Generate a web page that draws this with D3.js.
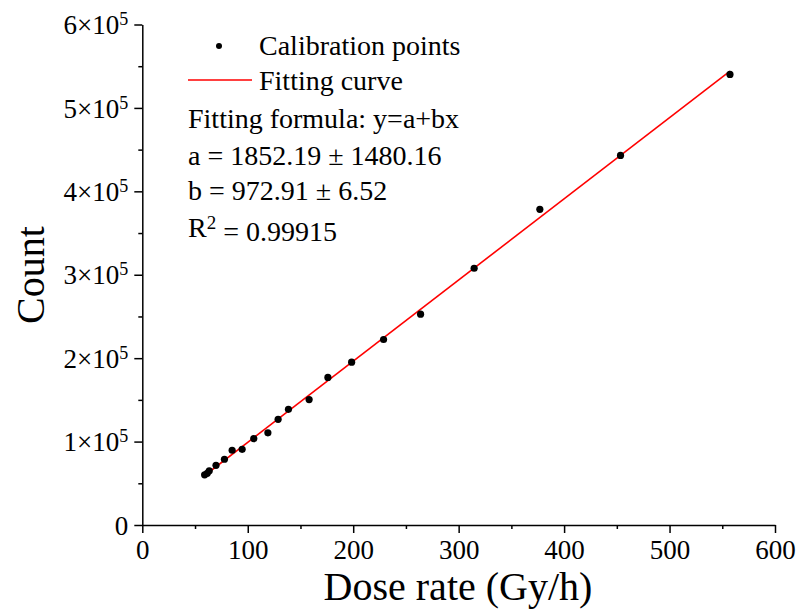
<!DOCTYPE html>
<html>
<head>
<meta charset="utf-8">
<script src="https://cdn.jsdelivr.net/npm/d3@7"></script>
<style>
  html, body { margin: 0; padding: 0; background: #fff; }
  svg { display: block; font-family: "Liberation Serif", "Times New Roman", serif; }
</style>
</head>
<body>
<svg id="chart" width="798" height="610"></svg>
<script>
// ---- data ----
const doseRate = [59.1, 61.6, 63.5, 69.9, 77.9, 85.2, 94.7, 105.7, 119.1, 128.8, 138.6, 158.2, 176.0, 198.5, 228.8, 263.9, 314.7, 377.0, 453.5, 557.3];
const counts   = [60200, 61900, 64900, 71500, 78800, 89600, 90700, 103600, 110500, 126700, 138700, 150300, 176900, 195200, 222400, 252700, 307800, 378400, 443100, 540100];
const fitA = 1852.19;
const fitB = 972.91;
const xTicks = [0, 100, 200, 300, 400, 500, 600];
const xMinorTicks = [50, 150, 250, 350, 450, 550];
const yTicks = [0, 100000, 200000, 300000, 400000, 500000, 600000];
const yMinorTicks = [50000, 150000, 250000, 350000, 450000, 550000];
const yTickMantissa = ["0", "1", "2", "3", "4", "5", "6"];
const legendLabels = ["Calibration points", "Fitting curve"];
const formulaLines = ["Fitting formula: y=a+bx", "a = 1852.19 \u00B1 1480.16", "b = 972.91 \u00B1 6.52"];
const r2Text = "= 0.99915";

// ---- layout ----
const svg = d3.select("#chart");
const x = d3.scaleLinear().domain([0, 600]).range([142.3, 775]);
const y = d3.scaleLinear().domain([0, 600000]).range([525, 24.5]);

// axes
const gx = svg.append("g").attr("transform", `translate(0,${y(0)})`)
  .call(d3.axisBottom(x).tickValues(xTicks).tickSize(8).tickSizeOuter(0).tickFormat(""));
const gxm = svg.append("g").attr("transform", `translate(0,${y(0)})`)
  .call(d3.axisBottom(x).tickValues(xMinorTicks).tickSize(4).tickSizeOuter(0).tickFormat(""));
gxm.select(".domain").remove();
const gy = svg.append("g").attr("transform", `translate(${x(0)},0)`)
  .call(d3.axisLeft(y).tickValues(yTicks).tickSize(8).tickSizeOuter(0).tickFormat(""));
const gym = svg.append("g").attr("transform", `translate(${x(0)},0)`)
  .call(d3.axisLeft(y).tickValues(yMinorTicks).tickSize(4).tickSizeOuter(0).tickFormat(""));
gym.select(".domain").remove();
svg.selectAll(".domain, .tick line").attr("stroke", "#000").attr("stroke-width", 1.5);

// x tick labels
gx.selectAll(".tick").append("text")
  .attr("y", 34).attr("text-anchor", "middle").attr("fill", "#000")
  .style("font-size", "27px").style("font-family", "Liberation Serif")
  .text(d => d);

// y tick labels with superscripts
gy.selectAll(".tick").each(function(d, i) {
  const t = d3.select(this).append("text")
    .attr("x", -14).attr("dy", "0.34em").attr("text-anchor", "end").attr("fill", "#000")
    .style("font-size", "27px").style("font-family", "Liberation Serif");
  if (d === 0) { t.text("0"); return; }
  t.append("tspan").text(yTickMantissa[i] + "\u00D710");
  t.append("tspan").attr("dy", "-0.5em").style("font-size", "18px").text("5");
});

// axis titles
svg.append("text").attr("x", 458).attr("y", 600).attr("text-anchor", "middle")
  .style("font-size", "40px").text("Dose rate (Gy/h)");
svg.append("text").attr("transform", `translate(44,275) rotate(-90)`).attr("text-anchor", "middle")
  .style("font-size", "40px").text("Count");

// fit line
const xMin = d3.min(doseRate), xMax = d3.max(doseRate);
svg.append("line")
  .attr("x1", x(xMin)).attr("y1", y(fitA + fitB * xMin))
  .attr("x2", x(xMax)).attr("y2", y(fitA + fitB * xMax))
  .attr("stroke", "#ff0000").attr("stroke-width", 1.6);

// points
svg.append("g").selectAll("circle").data(doseRate).join("circle")
  .attr("cx", d => x(d)).attr("cy", (d, i) => y(counts[i]))
  .attr("r", 3.6).attr("fill", "#000");

// legend
const lg = svg.append("g").style("font-size", "28px");
lg.append("circle").attr("cx", 219).attr("cy", 46).attr("r", 3).attr("fill", "#000");
lg.append("text").attr("x", 259).attr("y", 55).text(legendLabels[0]);
lg.append("line").attr("x1", 188).attr("x2", 252).attr("y1", 80).attr("y2", 80)
  .attr("stroke", "#ff0000").attr("stroke-width", 1.6);
lg.append("text").attr("x", 259).attr("y", 90).text(legendLabels[1]);
const baselines = [128, 165, 200];
formulaLines.forEach((s, i) => {
  lg.append("text").attr("x", 188).attr("y", baselines[i]).text(s);
});
const r2 = lg.append("text").attr("x", 188).attr("y", 237);
r2.append("tspan").text("R");
r2.append("tspan").attr("dy", "-0.4em").style("font-size", "19px").text("2");
r2.append("tspan").attr("dy", "0.4em").text(" " + r2Text);
</script>
</body>
</html>
